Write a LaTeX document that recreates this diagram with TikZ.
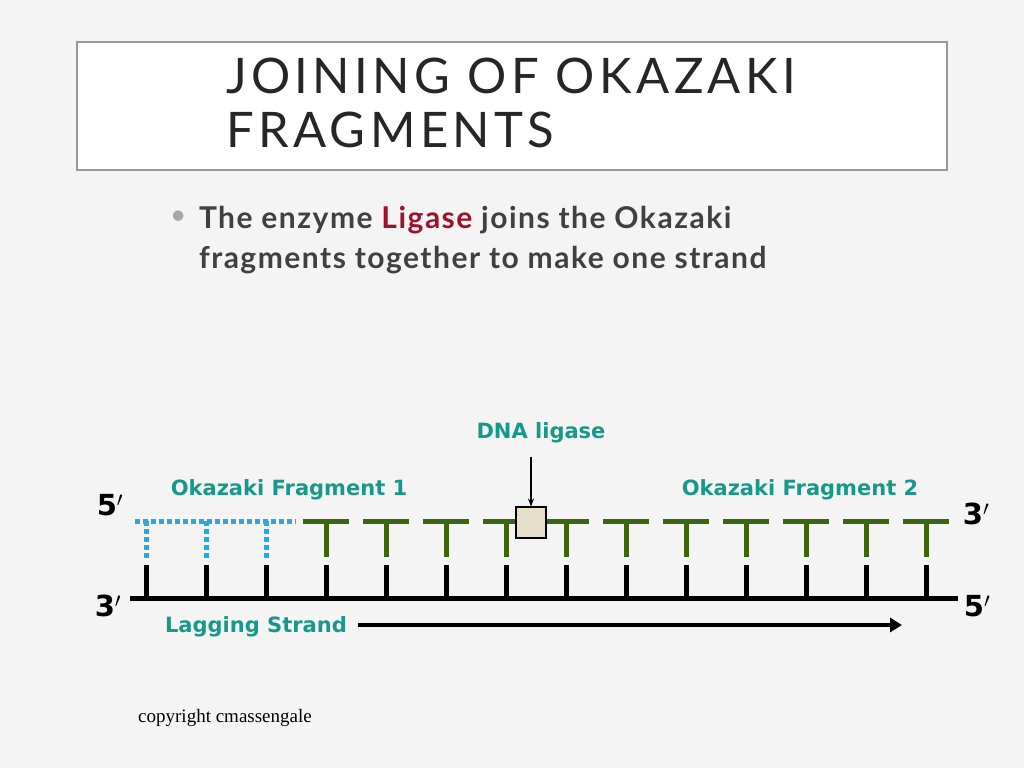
\documentclass[tikz,border=0pt]{standalone}
\usepackage{fontspec}
\setmainfont{Lato}
\newfontfamily\labelfont{DejaVu Sans}
\newfontfamily\copyfont{Liberation Serif}
\usetikzlibrary{calc,arrows.meta}
\definecolor{bgray}{HTML}{F4F4F4}
\definecolor{tealtxt}{HTML}{17998A}
\definecolor{dnagreen}{HTML}{3E6410}
\definecolor{primerblue}{HTML}{29A9E1}
\definecolor{ligred}{HTML}{A0102A}
\definecolor{boxfill}{HTML}{E6DFCB}
\begin{document}
\begin{tikzpicture}[x=1pt,y=-1pt,every node/.style={inner sep=0pt,outer sep=0pt}]
\tikzstyle{teal label}=[font=\labelfont\fontsize{21}{24}\selectfont\bfseries,text=tealtxt]
\tikzstyle{end label}=[font=\labelfont\fontsize{29}{32}\selectfont\bfseries]
\tikzstyle{template}=[line width=5pt]
\tikzstyle{newdna}=[line width=5pt,dnagreen]
\tikzstyle{primer}=[line width=5pt,primerblue,dash pattern=on 5pt off 3pt]
\fill[bgray] (0,0) rectangle (1024,768);
\useasboundingbox (0,0) rectangle (1024,768);
% title
\node (titlebox) [draw=gray!80,line width=2pt,fill=white,minimum width=870,minimum height=128,anchor=north west] at (77,42) {};
\node (title) [anchor=north west,align=left,text=black!85,font=\fontsize{49}{54}\selectfont\addfontfeatures{LetterSpace=9}] at (226,58) {JOINING OF OKAZAKI\\FRAGMENTS};
% bullet
\node (bullet) [anchor=north west,text=gray!70,font=\fontsize{28}{30}\selectfont] at (170,211) {\textbullet};
\node (btext) [anchor=north west,align=left,text=black!75,font=\fontsize{30}{40}\selectfont\bfseries\addfontfeatures{LetterSpace=5}] at (199,206) {The enzyme \textcolor{ligred}{Ligase} joins the Okazaki\\fragments together to make one strand};
% strands
\coordinate (bl) at (130,598);
\coordinate (br) at (958,598);
\draw[template] (bl) -- (br);
\foreach \x in {146,206,...,926}{
  \draw[template] (\x,565) -- (\x,598);
}
\draw[primer] (135,521) -- (296,521);
\foreach \x in {146,206,266}{
  \draw[primer] (\x,521) -- (\x,558);
}
\foreach \x in {326,386,...,926}{
  \draw[newdna] (\x-23,521) -- (\x+23,521);
  \draw[newdna] (\x,521) -- (\x,557);
}
\node (ligase) [draw,line width=2pt,fill=boxfill,minimum width=30,minimum height=31] at (531,522) {};
\node (dnalig) [teal label] at (541,433) {DNA ligase};
\draw[-{Stealth[length=8pt]},line width=1.2pt] ($(ligase.north)+(0,-50)$) -- (ligase.north);
\node (frag1) [teal label] at (289,490) {Okazaki Fragment 1};
\node (frag2) [teal label] at (800,490) {Okazaki Fragment 2};
\node (lag) [teal label] at (256,627) {Lagging Strand};
\coordinate (lagend) at (902,625);
\draw[line width=4pt,-{Triangle[length=12pt,width=14pt]}] (358,625) -- (lagend);
\node (tl) [end label] at (110,505) {5$'$};
\node (tr) [end label] at (976,514) {3$'$};
\node (bl3) [end label] at (108,606) {3$'$};
\node (br5) [end label] at (977,606) {5$'$};
\node (copy) [font=\copyfont\fontsize{19}{21}\selectfont] at (225,718) {copyright cmassengale};
\end{tikzpicture}
\end{document}
